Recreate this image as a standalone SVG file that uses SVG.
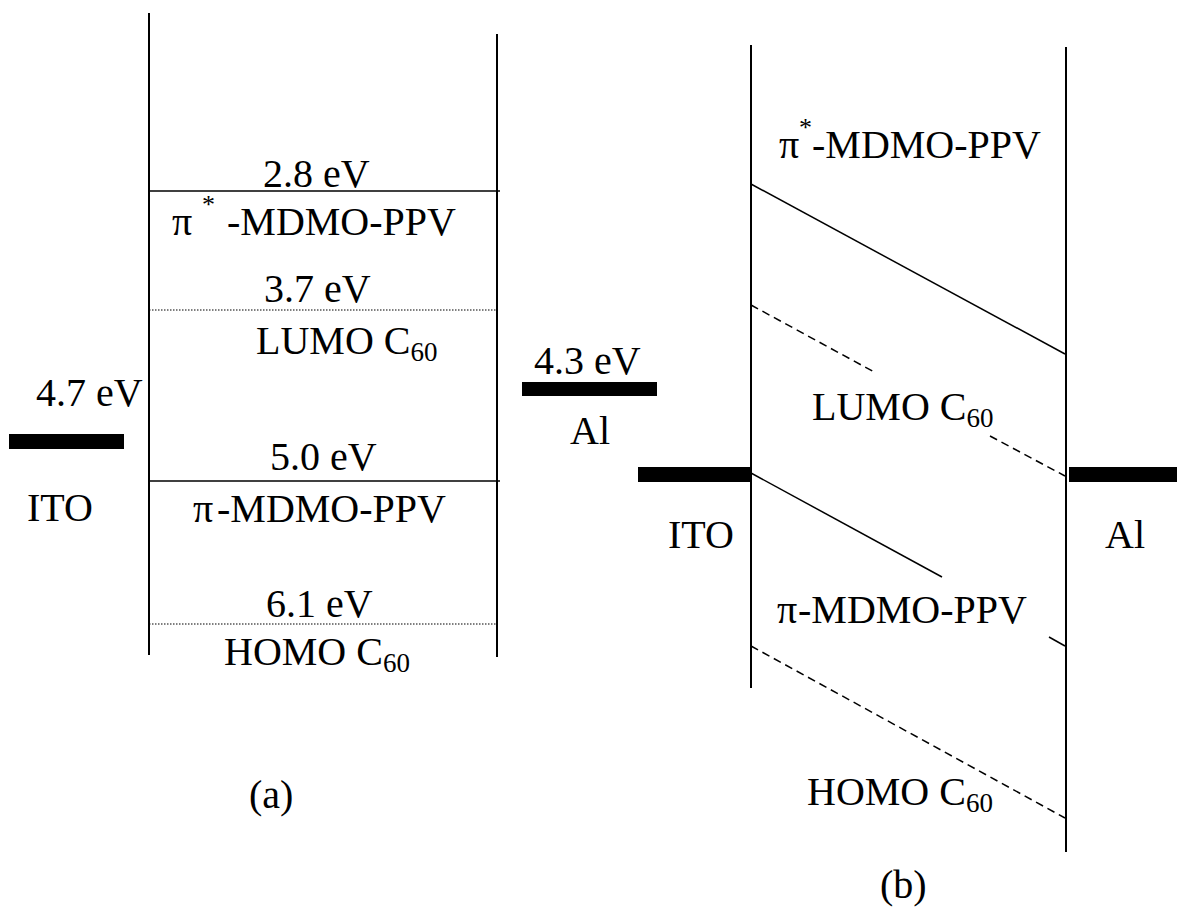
<svg xmlns="http://www.w3.org/2000/svg" width="1177" height="907" viewBox="0 0 1177 907" font-family="'Liberation Serif', 'Times New Roman', serif">
<style>
text{font-family:"Liberation Serif","Times New Roman",serif;font-size:40px;fill:#000}
.sub{font-size:27px}
.sup{font-size:26px}
.wall{stroke:#000;stroke-width:2;fill:none}
.lvl{stroke:#000;stroke-width:1.5;fill:none}
.dot{stroke:#000;stroke-width:1.2;stroke-dasharray:1.5 1.5;fill:none}
.dash{stroke:#000;stroke-width:1.5;stroke-dasharray:8 5;fill:none}
.bar{fill:#000}
</style>
<rect width="1177" height="907" fill="#fff"/>
<g id="connectors">
<line class="wall" x1="149" y1="13" x2="149" y2="655"/>
<line class="wall" x1="497" y1="34" x2="497" y2="657"/>
<line class="lvl" x1="149" y1="191" x2="500" y2="191"/>
<line class="dot" x1="149" y1="310" x2="497" y2="310"/>
<line class="lvl" x1="149" y1="481" x2="500" y2="481"/>
<line class="dot" x1="149" y1="624" x2="497" y2="624"/>
<line class="wall" x1="751" y1="45" x2="751" y2="688"/>
<line class="wall" x1="1066" y1="47" x2="1066" y2="852"/>
<line class="lvl" x1="751" y1="184" x2="1065" y2="354"/>
<line class="dash" x1="751" y1="305" x2="876" y2="373"/>
<line class="dash" x1="990" y1="436" x2="1065" y2="476"/>
<line class="lvl" x1="751" y1="473" x2="942" y2="577"/>
<line class="lvl" x1="1049" y1="637" x2="1065" y2="646"/>
<line class="dash" x1="751" y1="646" x2="1065" y2="818"/>
</g>
<g id="ito-a">
<rect class="bar" x="9" y="434" width="115" height="15"/>
<text x="36" y="406">4.7 eV</text>
<text x="27" y="521">ITO</text>
</g>
<g id="al-a">
<rect class="bar" x="522" y="382" width="135" height="14"/>
<text x="534" y="374">4.3 eV</text>
<text x="570" y="444">Al</text>
</g>
<g id="levels-a">
<text x="263" y="187">2.8 eV</text>
<text y="235"><tspan x="172">π</tspan><tspan class="sup" x="202" dy="-22">*</tspan><tspan x="227" dy="22">-MDMO-PPV</tspan></text>
<text x="264" y="302">3.7 eV</text>
<text x="256" y="354">LUMO C<tspan class="sub" dy="7">60</tspan></text>
<text x="270" y="470">5.0 eV</text>
<text y="522"><tspan x="193">π</tspan><tspan x="217">-MDMO-PPV</tspan></text>
<text x="266" y="617">6.1 eV</text>
<text x="224" y="665">HOMO C<tspan class="sub" dy="7">60</tspan></text>
<text x="249" y="808">(a)</text>
</g>
<g id="ito-b">
<rect class="bar" x="638" y="467" width="114" height="15"/>
<text x="668" y="548">ITO</text>
</g>
<g id="al-b">
<rect class="bar" x="1069" y="467" width="108" height="15"/>
<text x="1105" y="548">Al</text>
</g>
<g id="levels-b">
<text y="158"><tspan x="779">π</tspan><tspan class="sup" x="799" dy="-22">*</tspan><tspan x="812" dy="22">-MDMO-PPV</tspan></text>
<text x="812" y="420">LUMO C<tspan class="sub" dy="7">60</tspan></text>
<text y="623"><tspan x="777">π</tspan><tspan x="798">-MDMO-PPV</tspan></text>
<text x="807" y="805">HOMO C<tspan class="sub" dy="7">60</tspan></text>
<text x="880" y="898">(b)</text>
</g>
</svg>
